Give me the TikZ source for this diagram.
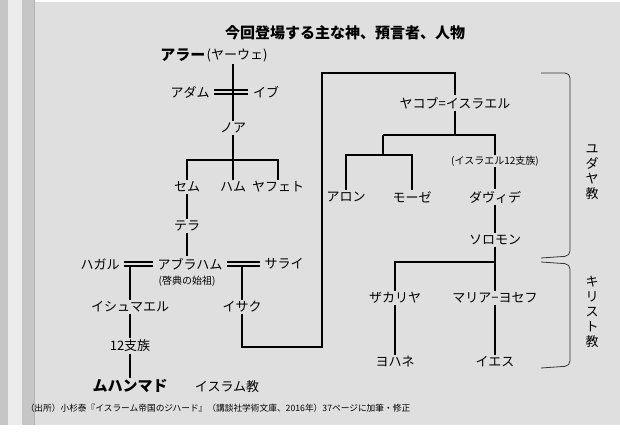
\documentclass[tikz,border=0pt]{standalone}
\usepackage{fontspec}
\setmainfont{Noto Sans CJK JP}
\usetikzlibrary{calc}
\tikzset{
	nm/.style={inner sep=1.5pt,font=\fontsize{13}{14}\selectfont},
	bnm/.style={inner sep=1.5pt,font=\fontsize{15}{16}\selectfont\bfseries},
	sm/.style={inner sep=1pt,font=\fontsize{10}{11}\selectfont},
	ln/.style={line width=1.4pt},
	vt/.style={align=center,font=\fontsize{13}{15}\selectfont}
}
\begin{document}
\begin{tikzpicture}[x=1pt,y=-1pt]
	\useasboundingbox (0,0) rectangle (620,438);
	% scroll
	\fill[gray!25] (18,2) rectangle (620,425);
	\fill[gray!45] (0,0) rectangle (34,425);
	\fill[gray!15] (8,0) rectangle (22,425);
	\draw[gray!60] (34,0) -- (34,425);
	\node[font=\fontsize{15}{16}\selectfont\bfseries] (title) at (345,33) {今回登場する主な神、預言者、人物};
	% left tree
	\node[bnm,anchor=east] (allah) at (207,55) {アラー};
	\node[nm,anchor=west] (yhwh) at (205,55) {(ヤーウェ)};
	\node[nm] (adam) at (190,92) {アダム};
	\node[nm] (eve) at (266,92) {イブ};
	\node[nm] (noah) at (233,128) {ノア};
	\node[nm] (shem) at (187,187) {セム};
	\node[nm] (ham) at (233,187) {ハム};
	\node[nm] (japheth) at (278,187) {ヤフェト};
	\node[nm] (terah) at (187,226) {テラ};
	\node[nm] (abraham) at (190,264) {アブラハム};
	\node[sm] (abr2) at (187,281) {(啓典の始祖)};
	\node[nm] (hagar) at (100,264) {ハガル};
	\node[nm] (sarai) at (284,264) {サライ};
	\node[nm] (ishmael) at (130,307) {イシュマエル};
	\node[nm] (tribes) at (130,346) {12支族};
	\node[bnm] (muhammad) at (130,386) {ムハンマド};
	\node[nm] (islam) at (227,387) {イスラム教};
	\node[nm] (isaac) at (242,307) {イサク};
	% right tree
	\node[nm] (jacob) at (455,103) {ヤコブ=イスラエル};
	\node[nm] (aaron) at (346,197) {アロン};
	\node[nm] (moses) at (412,197) {モーゼ};
	\node[sm] (twelve) at (495,161) {(イスラエル12支族)};
	\node[nm] (david) at (495,197) {ダヴィデ};
	\node[nm] (solomon) at (495,240) {ソロモン};
	\node[nm] (zechariah) at (395,298) {ザカリヤ};
	\node[nm] (mary) at (495,298) {マリア−ヨセフ};
	\node[nm] (john) at (395,362) {ヨハネ};
	\node[nm] (jesus) at (495,362) {イエス};
	\node[vt] (judaism) at (592,172) {ユ\\ダ\\ヤ\\教};
	\node[vt] (christ) at (592,312) {キ\\リ\\ス\\ト\\教};
	\node[font=\fontsize{8.7}{10}\selectfont] (src) at (218,408) {（出所）小杉泰『イスラーム帝国のジハード』（講談社学術文庫、2016年）37ページに加筆・修正};
	% connectors
	\draw[ln] (233,64) -- (noah);
	\draw[line width=1.2pt] (adam.east) ++(3,-2) -- ($(eve.west)+(-3,-2)$) (adam.east) ++(3,2) -- ($(eve.west)+(-3,2)$);
	\draw[ln] (noah) -- (233,160) (shem) |- (233,160) -| (japheth.north) (ham) -- (233,160);
	\draw[ln] (shem) -- (terah);
	\draw[ln] (terah) -- (187,256);
	\draw[line width=1.2pt] (hagar.east) ++(3,-2) -- ($(abraham.west)+(-3,-2)$) (hagar.east) ++(3,2) -- ($(abraham.west)+(-3,2)$);
	\draw[line width=1.2pt] (abraham.east) ++(3,-2) -- ($(sarai.west)+(-3,-2)$) (abraham.east) ++(3,2) -- ($(sarai.west)+(-3,2)$);
	\draw[ln] (130,266) -- (ishmael) -- (tribes) -- (muhammad);
	\draw[ln] (242,266) -- (isaac);
	\draw[ln] (isaac) |- (322,347) |- (455,73) -- (jacob);
	\draw[ln] (jacob) -- (455,135) (383,135) -- (495,135) -- (twelve);
	\draw[ln] (383,135) -- (383,155) (aaron) |- (383,155) -| (moses);
	\draw[ln] (twelve) -- (david) -- (solomon) -- (495,262) -- (mary);
	\draw[ln] (zechariah) |- (495,262);
	\draw[ln] (zechariah) -- (john) (mary) -- (jesus);
	% brackets
	\draw[gray!40!black,line width=0.8pt,rounded corners=5pt] (541,73) -- (570,73) -- (570,256) -- (541,258);
	\draw[gray!40!black,line width=0.8pt,rounded corners=5pt] (541,262) -- (570,264) -- (570,366) -- (541,368);
\end{tikzpicture}
\end{document}
